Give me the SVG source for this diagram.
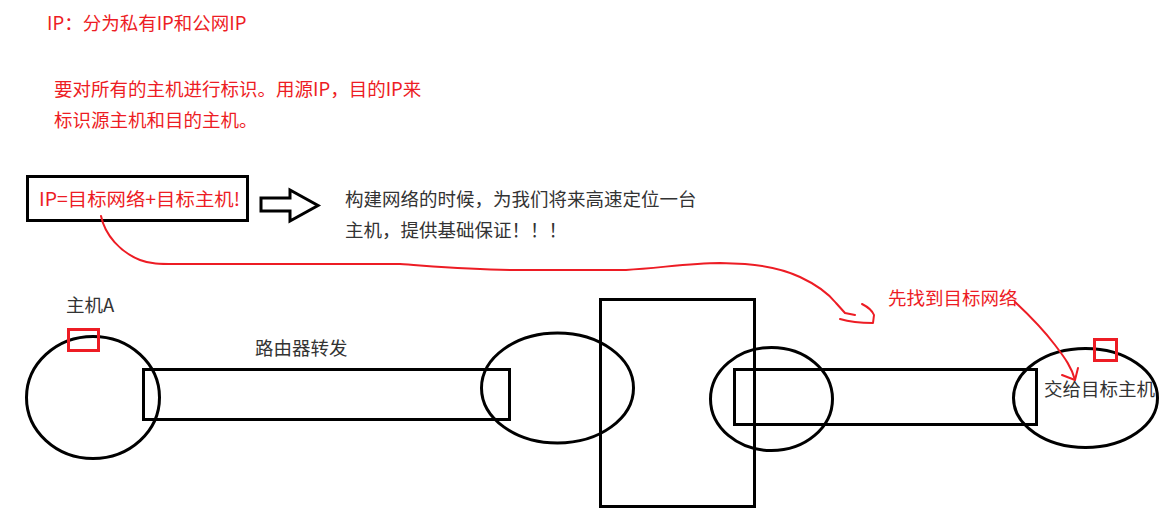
<svg xmlns="http://www.w3.org/2000/svg" width="1170" height="526" viewBox="0 0 1170 526">
<style>
  .red { fill: #ed1c24; font-family: "Noto Sans CJK SC", "Noto Sans", sans-serif; font-size: 18.5px; }
  .blk { fill: #333; font-family: "Noto Sans CJK SC", "Noto Sans", sans-serif; font-size: 18.5px; }
  .shape { fill: none; stroke: #000; stroke-width: 3; }
  .rbox { fill: none; stroke: #ed1c24; stroke-width: 3; }
  .rline { fill: none; stroke: #ed1c24; stroke-width: 2; stroke-linecap: round; stroke-linejoin: round; }
</style>
<rect width="1170" height="526" fill="#fff"/>
<g id="notes">
  <text class="red" x="47" y="30">IP：分为私有IP和公网IP</text>
  <text class="red" x="54" y="96">要对所有的主机进行标识。用源IP，目的IP来</text>
  <text class="red" x="54" y="127">标识源主机和目的主机。</text>
</g>
<g id="ip-box">
  <rect class="shape" x="27.5" y="176.5" width="220" height="44"/>
  <text class="red" x="39" y="206" textLength="201" lengthAdjust="spacingAndGlyphs">IP=目标网络+目标主机!</text>
</g>
<g id="hollow-arrow">
  <polygon class="shape" points="261,198 290,198 290,190 318,205.5 290,221 290,211 261,211"/>
</g>
<g id="explain">
  <text class="blk" x="345" y="206">构建网络的时候，为我们将来高速定位一台</text>
  <text class="blk" x="345" y="237">主机，提供基础保证！！！</text>
</g>
<g id="host-a">
  <text class="blk" x="66" y="312">主机A</text>
  <ellipse class="shape" cx="93" cy="397.5" rx="66.5" ry="61"/>
  <rect class="rbox" x="68.5" y="329.5" width="30" height="21"/>
</g>
<g id="link1">
  <rect class="shape" x="143.5" y="369.5" width="366" height="50"/>
  <text class="blk" x="255" y="355">路由器转发</text>
</g>
<g id="net1">
  <ellipse class="shape" cx="557.5" cy="388" rx="76" ry="55"/>
</g>
<g id="router">
  <rect class="shape" x="600.5" y="299.5" width="154" height="207"/>
</g>
<g id="net2">
  <ellipse class="shape" cx="771.5" cy="399" rx="61" ry="51.5"/>
</g>
<g id="link2">
  <rect class="shape" x="734.5" y="369.5" width="302" height="55"/>
</g>
<g id="host-b">
  <ellipse class="shape" cx="1085.5" cy="398" rx="72" ry="49.5"/>
  <rect class="rbox" x="1094.5" y="339.5" width="22" height="21"/>
  <text class="blk" x="1044" y="396">交给目标主机</text>
</g>
<g id="label-find">
  <text class="red" x="888" y="305">先找到目标网络</text>
</g>
<g id="connectors">
  <path class="rline" d="M101,216 C105,235 120,252 140,260 C150,264 160,264 175,264 L400,264 C430,266 470,270 520,270 L626,270 C660,268 690,263 720,263 L745,264 C770,266 785,270 800,277 C815,284 828,293 836,303 L845,313 L855,315"/>
  <path class="rline" d="M840,319 C850,322 860,323 873,323 L874,315 C872,310 868,307 862,304"/>
  <path class="rline" d="M1015,302 C1030,316 1045,332 1055,345 C1065,358 1072,368 1075,380"/>
  <path class="rline" d="M1062,375 L1075,380 L1078,368"/>
</g>
</svg>
